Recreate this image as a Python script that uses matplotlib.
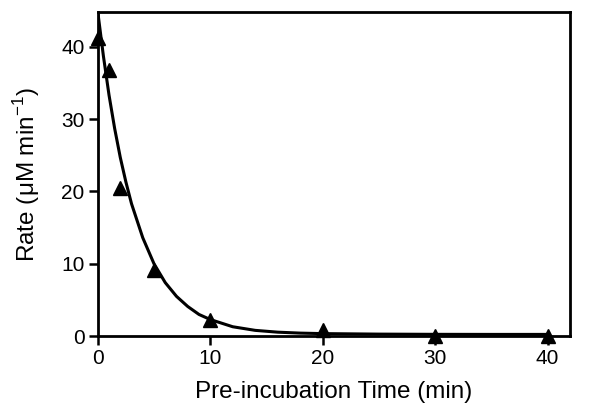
import matplotlib
matplotlib.use("Agg")
import matplotlib.pyplot as plt

plt.rcParams['font.family'] = ['Liberation Sans', 'DejaVu Sans']
plt.rcParams['mathtext.fontset'] = 'custom'
plt.rcParams['mathtext.rm'] = 'Liberation Sans'

# measured points
time_min = [0, 1, 2, 5, 10, 20, 30, 40]
rate = [41.2, 36.8, 20.5, 9.2, 2.3, 0.8, 0.0, 0.0]

# fitted curve
curve_t = [0, 0.5, 1, 1.5, 2, 2.5, 3, 4, 5, 6, 7, 8, 9, 10, 12, 14, 16, 18, 20, 25, 30, 35, 40]
curve_y = [44.8, 38.7, 33.3, 28.7, 24.7, 21.3, 18.3, 13.6, 10.0, 7.4, 5.5, 4.1, 3.0, 2.3,
           1.3, 0.8, 0.55, 0.42, 0.35, 0.28, 0.25, 0.24, 0.24]

fig = plt.figure(figsize=(6, 4.15), dpi=100)
ax = fig.add_axes([0.163, 0.19, 0.787, 0.781])

ax.plot(curve_t, curve_y, color='black', lw=2.2, solid_capstyle='butt')
ax.plot(time_min, rate, ls='none', marker='^', ms=9.5, color='black', clip_on=False, zorder=5)

ax.set_xlim(0, 42)
ax.set_ylim(0, 44.8)
ax.set_xticks([0, 10, 20, 30, 40])
ax.set_yticks([0, 10, 20, 30, 40])
ax.tick_params(direction='out', length=6.5, width=1.8, labelsize=15, pad=3)
for s in ax.spines.values():
    s.set_linewidth(2)

ax.set_xlabel('Pre-incubation Time (min)', fontsize=17.5, labelpad=9)
ax.set_ylabel('Rate (\u03bcM min$^{\\mathregular{-1}}$)', fontsize=17.5, labelpad=14)

plt.savefig("out.png", dpi=100)
